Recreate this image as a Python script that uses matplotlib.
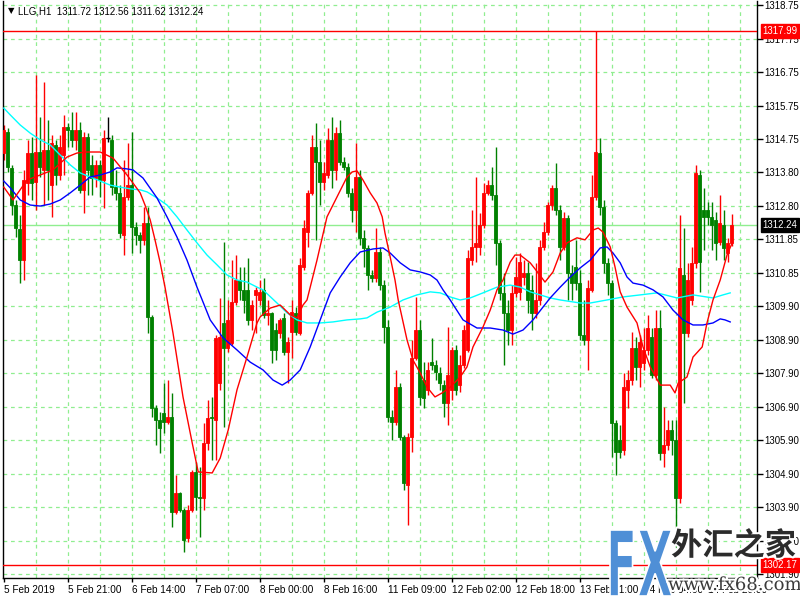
import numpy as np
import matplotlib
matplotlib.use("Agg")
import matplotlib.pyplot as plt
import matplotlib.patheffects as pe
from matplotlib.textpath import TextPath
from matplotlib.patches import PathPatch
from matplotlib.transforms import Affine2D
from matplotlib.font_manager import FontProperties

# ---------------- data (LLG, H1) ----------------
symbol = "LLG,H1"

opens = [
    1314.37, 1314.99, 1313.93, 1312.83, 1312.12, 1311.20, 1313.48, 1314.37, 1313.51, 1314.40,
    1313.87, 1314.46, 1313.42, 1314.61, 1313.72, 1314.31, 1315.14, 1315.05, 1314.76, 1315.05,
    1313.28, 1314.85, 1314.02, 1313.63, 1314.02, 1313.57, 1314.82, 1314.76, 1313.36, 1313.19,
    1311.94, 1313.07, 1313.42, 1312.18, 1311.94, 1311.80, 1312.30, 1309.52, 1306.82, 1306.47,
    1306.68, 1306.41, 1306.56, 1303.74, 1304.31, 1303.80, 1302.97, 1303.80, 1304.93, 1304.19,
    1304.16, 1305.79, 1306.56, 1306.47, 1307.56, 1309.34, 1308.60, 1308.75, 1309.96, 1310.61,
    1310.32, 1310.32, 1309.43, 1310.17, 1310.02, 1310.32, 1309.58, 1309.64, 1309.13, 1309.04,
    1309.49, 1308.48, 1309.07, 1309.64, 1309.04, 1311.00, 1312.03, 1313.19, 1314.55, 1314.10,
    1313.51, 1313.72, 1314.76, 1313.87, 1314.96, 1314.10, 1313.96, 1313.19, 1312.68, 1313.66,
    1311.86, 1311.56, 1310.76, 1310.67, 1311.44, 1310.46, 1309.22, 1306.56, 1306.41, 1307.44,
    1305.96, 1304.54, 1305.96, 1308.30, 1309.13, 1307.65, 1307.36, 1308.18, 1308.10, 1307.86,
    1307.50, 1306.97, 1307.36, 1308.54, 1307.50, 1308.10, 1308.54, 1311.20, 1311.59, 1311.59,
    1312.24, 1313.19, 1313.42, 1313.13, 1311.71, 1310.23, 1309.64, 1309.13, 1310.23, 1310.26,
    1310.70, 1310.82, 1310.32, 1309.64, 1310.02, 1311.59, 1312.03, 1312.83, 1313.34, 1312.68,
    1311.59, 1312.45, 1310.82, 1311.00, 1310.52, 1308.98, 1308.84, 1310.32, 1313.07, 1314.37,
    1312.77, 1311.12, 1310.52, 1306.38, 1305.88, 1305.58, 1307.36, 1307.65, 1308.60, 1308.04,
    1308.16, 1308.54, 1308.92, 1307.80, 1309.19, 1305.49, 1305.73, 1306.17, 1305.88, 1304.16,
    1310.76, 1309.04, 1310.02, 1311.12, 1313.72, 1312.68, 1312.68, 1312.48, 1312.39, 1311.74,
    1312.24, 1311.41, 1311.72,
]
highs = [
    1315.20, 1315.11, 1314.02, 1312.98, 1312.54, 1313.87, 1314.76, 1314.85, 1316.68, 1315.44,
    1316.47, 1315.35, 1314.90, 1314.76, 1314.90, 1315.50, 1315.26, 1315.58, 1315.58, 1315.29,
    1314.99, 1314.96, 1314.31, 1314.16, 1314.16, 1315.05, 1315.44, 1314.90, 1313.87, 1313.42,
    1314.16, 1314.67, 1314.99, 1312.33, 1312.03, 1312.77, 1312.77, 1309.58, 1306.91, 1306.70,
    1307.56, 1307.65, 1307.27, 1304.84, 1304.34, 1303.86, 1303.95, 1304.99, 1305.22, 1305.08,
    1306.38, 1307.06, 1307.15, 1308.98, 1310.08, 1311.74, 1310.02, 1311.20, 1311.35, 1311.00,
    1311.00, 1311.26, 1310.02, 1310.40, 1310.61, 1310.67, 1310.02, 1309.66, 1309.34, 1309.49,
    1309.64, 1308.92, 1310.02, 1309.81, 1311.26, 1312.39, 1313.28, 1314.90, 1315.26, 1314.76,
    1314.10, 1315.11, 1315.44, 1315.14, 1315.35, 1314.25, 1314.08, 1313.34, 1314.67, 1313.87,
    1312.09, 1311.65, 1310.91, 1312.15, 1311.59, 1310.61, 1309.43, 1306.76, 1307.95, 1307.56,
    1306.02, 1306.08, 1308.84, 1310.11, 1309.43, 1308.18, 1308.18, 1308.90, 1308.24, 1308.04,
    1307.65, 1309.22, 1308.63, 1308.69, 1308.39, 1309.28, 1311.50, 1312.68, 1313.66, 1312.60,
    1313.48, 1313.57, 1313.96, 1314.55, 1311.80, 1310.82, 1310.02, 1310.46, 1311.29, 1311.41,
    1311.20, 1311.14, 1310.76, 1311.12, 1311.80, 1312.33, 1312.92, 1313.42, 1314.08, 1312.83,
    1312.62, 1312.54, 1311.06, 1311.80, 1310.91, 1310.02, 1310.61, 1313.72, 1317.99, 1314.82,
    1312.98, 1311.26, 1310.61, 1306.47, 1306.32, 1307.86, 1307.95, 1309.07, 1308.92, 1308.98,
    1309.19, 1309.58, 1309.19, 1309.72, 1309.72, 1306.85, 1306.47, 1306.47, 1306.47, 1312.54,
    1312.15, 1311.12, 1311.59, 1314.02, 1313.87, 1313.34, 1312.91, 1312.91, 1312.62, 1313.13,
    1312.68, 1311.86, 1312.56,
]
lows = [
    1314.16, 1313.81, 1312.54, 1311.88, 1310.52, 1310.61, 1313.13, 1312.98, 1312.68, 1313.66,
    1312.83, 1312.98, 1312.48, 1313.42, 1313.57, 1313.72, 1314.55, 1314.55, 1314.46, 1313.19,
    1312.60, 1313.13, 1313.13, 1313.36, 1313.07, 1312.74, 1314.70, 1313.13, 1312.98, 1311.86,
    1311.35, 1312.98, 1311.41, 1311.65, 1311.41, 1311.65, 1309.04, 1306.56, 1305.73, 1305.49,
    1306.08, 1306.35, 1303.30, 1303.69, 1303.74, 1302.56, 1302.86, 1303.74, 1303.80, 1303.00,
    1303.80, 1305.58, 1305.28, 1305.28, 1307.36, 1306.26, 1308.48, 1308.69, 1309.87, 1310.02,
    1309.64, 1309.28, 1309.13, 1309.04, 1309.87, 1309.49, 1309.28, 1308.16, 1308.24, 1308.90,
    1308.39, 1307.56, 1308.30, 1308.98, 1308.98, 1310.91, 1311.59, 1313.13, 1311.80, 1312.83,
    1313.28, 1313.63, 1313.34, 1313.57, 1314.02, 1313.87, 1313.07, 1312.33, 1312.03, 1311.65,
    1311.00, 1310.32, 1310.55, 1310.55, 1310.32, 1308.75, 1306.41, 1305.88, 1306.32, 1305.88,
    1304.40, 1303.36, 1305.52, 1308.24, 1306.91, 1306.82, 1307.21, 1307.95, 1307.65, 1307.36,
    1306.56, 1306.32, 1307.06, 1307.21, 1307.30, 1308.01, 1308.48, 1311.06, 1311.14, 1311.35,
    1312.15, 1313.13, 1312.98, 1311.06, 1310.02, 1308.10, 1308.69, 1308.69, 1310.11, 1310.02,
    1310.46, 1309.64, 1309.13, 1309.49, 1309.87, 1311.50, 1311.94, 1312.68, 1312.54, 1311.20,
    1311.50, 1310.02, 1310.02, 1310.32, 1308.84, 1308.69, 1307.95, 1310.26, 1312.98, 1312.54,
    1310.82, 1310.17, 1305.37, 1304.84, 1305.34, 1305.43, 1306.82, 1307.50, 1307.65, 1307.44,
    1307.95, 1308.39, 1307.71, 1307.65, 1305.28, 1305.08, 1305.58, 1305.43, 1302.71, 1304.01,
    1306.97, 1308.92, 1309.87, 1310.97, 1310.26, 1311.50, 1312.24, 1311.50, 1311.20, 1311.65,
    1311.20, 1311.14, 1311.62,
]
closes = [
    1315.05, 1313.96, 1312.83, 1312.15, 1311.20, 1313.57, 1314.37, 1313.48, 1314.40, 1313.96,
    1314.46, 1313.87, 1314.67, 1313.72, 1314.55, 1315.14, 1315.05, 1314.76, 1315.05, 1313.28,
    1314.85, 1313.87, 1313.63, 1314.02, 1313.57, 1314.82, 1314.82, 1313.36, 1313.19, 1312.00,
    1313.07, 1313.42, 1312.18, 1311.94, 1311.80, 1312.30, 1309.52, 1306.82, 1306.47, 1306.23,
    1306.41, 1306.56, 1303.74, 1304.31, 1303.80, 1302.92, 1303.80, 1304.93, 1304.19, 1304.16,
    1305.79, 1306.53, 1306.53, 1308.90, 1308.92, 1308.60, 1309.43, 1309.96, 1310.61, 1310.32,
    1310.02, 1309.43, 1309.87, 1310.32, 1310.26, 1309.58, 1309.64, 1308.54, 1308.54, 1309.43,
    1308.48, 1308.78, 1309.66, 1309.07, 1311.06, 1312.15, 1313.19, 1314.55, 1314.10, 1313.51,
    1313.78, 1314.76, 1313.87, 1314.96, 1314.10, 1313.96, 1313.19, 1312.68, 1313.66, 1311.86,
    1311.56, 1310.76, 1310.67, 1311.44, 1310.46, 1309.22, 1306.56, 1306.41, 1307.44, 1305.96,
    1304.60, 1305.96, 1308.30, 1309.13, 1307.15, 1307.12, 1307.95, 1308.10, 1307.89, 1307.56,
    1306.97, 1307.80, 1308.54, 1307.36, 1308.10, 1309.13, 1311.26, 1311.59, 1311.71, 1312.24,
    1313.19, 1313.42, 1313.13, 1311.71, 1310.23, 1309.64, 1309.13, 1310.23, 1310.70, 1311.14,
    1310.82, 1310.02, 1309.64, 1310.02, 1311.59, 1312.03, 1312.83, 1313.34, 1312.68, 1311.59,
    1312.45, 1310.82, 1310.52, 1310.52, 1308.98, 1308.84, 1310.38, 1313.07, 1314.40, 1312.77,
    1311.12, 1310.52, 1306.38, 1305.52, 1305.52, 1307.44, 1307.65, 1308.60, 1308.04, 1308.78,
    1308.54, 1309.19, 1307.80, 1309.19, 1305.49, 1305.73, 1306.17, 1305.88, 1304.16, 1310.97,
    1309.04, 1310.61, 1311.12, 1313.78, 1311.14, 1312.48, 1312.48, 1312.24, 1311.71, 1312.30,
    1311.56, 1311.71, 1312.24,
]

# moving averages (bar position, price)
ma_red_bar = [0, 2.3, 5.8, 9.1, 12.3, 15.8, 18.3, 20.8, 24.1, 27.3, 30.8, 34.1, 35.3, 36.6, 37.8,
              39.1, 40.3, 42.3, 44.8, 47.1, 48.6, 52.1, 54.1, 56.1, 58.3, 60.8, 63.3, 64.1, 66.6,
              69.1, 71.6, 73.3, 74.8, 75.8, 78.3, 80.8, 83.3, 85.8, 87.1, 88.3, 89.8, 91.6, 93.3,
              94.6, 95.3, 96.6, 97.8, 98.6, 100.8, 102.3, 104.1, 105.8, 107.8, 109.6, 111.6, 114.1,
              115.8, 117.3, 119.8, 121.6, 123.3, 124.8, 126.6, 127.8, 129.1, 131.6, 133.6, 135.3,
              137.3, 139.1, 140.8, 143.3, 145.3, 147.3, 148.6, 149.8, 151.6, 152.8, 154.1, 155.8,
              158.3, 159.8, 161.6, 164.1, 166.6, 167.8, 168.6, 170.8, 172.3, 174.6, 175.8, 177.3,
              179.1, 180.8, 182.1]
ma_red_val = [1313.36, 1312.98, 1313.57, 1313.72, 1313.87, 1314.25, 1314.37, 1314.40, 1314.40,
              1314.22, 1313.72, 1313.19, 1312.83, 1312.39, 1311.80, 1311.12, 1310.40, 1309.04,
              1307.15, 1305.79, 1304.93, 1304.90, 1305.34, 1306.17, 1307.36, 1308.33, 1309.34,
              1309.52, 1309.78, 1309.87, 1309.58, 1309.49, 1309.87, 1310.02, 1311.20, 1312.48,
              1313.07, 1313.66, 1313.81, 1313.84, 1313.57, 1313.19, 1312.89, 1312.48, 1312.00,
              1311.29, 1310.61, 1310.02, 1308.84, 1308.24, 1307.86, 1307.44, 1307.15, 1307.27,
              1307.44, 1307.74, 1308.04, 1308.63, 1309.22, 1309.72, 1310.32, 1310.61, 1311.14,
              1311.35, 1311.35, 1311.12, 1310.82, 1310.55, 1310.85, 1311.41, 1311.71, 1311.86,
              1311.80, 1312.09, 1312.15, 1312.03, 1311.59, 1311.00, 1310.26, 1309.81, 1309.34,
              1308.63, 1308.04, 1307.50, 1307.50, 1307.27, 1307.56, 1307.74, 1308.33, 1308.63,
              1309.34, 1310.02, 1310.61, 1311.35, 1311.71]

ma_blue_bar = [0, 1.6, 4.1, 6.6, 9.1, 11.6, 14.1, 16.6, 19.1, 21.6, 24.1, 26.6, 28.3, 30.8, 32.3,
               34.8, 38.3, 40.8, 43.3, 45.8, 48.3, 49.6, 51.6, 54.8, 58.3, 61.6, 64.8, 67.3, 69.6,
               71.6, 74.1, 76.6, 79.1, 81.6, 84.1, 86.6, 89.1, 92.3, 94.8, 96.6, 99.1, 101.6, 104.1,
               106.6, 108.3, 109.8, 111.6, 114.8, 118.3, 121.6, 124.8, 127.3, 129.8, 132.3, 134.8,
               136.6, 139.1, 141.6, 144.1, 146.6, 149.1, 150.8, 152.3, 154.1, 155.8, 157.3, 159.8,
               162.3, 164.8, 167.3, 169.8, 172.3, 174.8, 177.3, 179.1, 180.3, 181.6]
ma_blue_val = [1313.54, 1313.34, 1312.98, 1312.83, 1312.80, 1312.86, 1312.98, 1313.19, 1313.42,
               1313.66, 1313.72, 1313.81, 1313.93, 1313.90, 1313.87, 1313.63, 1313.04, 1312.48,
               1311.88, 1311.20, 1310.40, 1310.02, 1309.43, 1308.90, 1308.54, 1308.18, 1307.95,
               1307.65, 1307.50, 1307.65, 1307.95, 1308.63, 1309.43, 1310.23, 1310.70, 1311.12,
               1311.44, 1311.53, 1311.56, 1311.41, 1311.12, 1310.91, 1310.85, 1310.76, 1310.61,
               1310.32, 1310.02, 1309.43, 1309.19, 1309.19, 1309.13, 1309.01, 1309.13, 1309.43,
               1309.81, 1310.08, 1310.40, 1310.70, 1310.97, 1311.20, 1311.56, 1311.59, 1311.41,
               1311.12, 1310.70, 1310.52, 1310.46, 1310.32, 1310.11, 1309.72, 1309.43, 1309.28,
               1309.28, 1309.34, 1309.46, 1309.43, 1309.37]

ma_cyan_bar = [0, 1.6, 4.1, 6.6, 9.1, 11.6, 14.1, 16.6, 19.1, 21.6, 24.1, 26.6, 29.1, 31.6, 34.1,
               35.8, 38.3, 40.8, 43.3, 45.8, 48.3, 50.8, 53.3, 55.8, 58.3, 60.8, 63.3, 64.8, 68.3,
               70.8, 73.3, 75.8, 79.1, 82.3, 85.8, 89.1, 90.8, 93.3, 96.6, 99.8, 103.3, 106.6, 109.1,
               111.6, 114.1, 116.6, 119.8, 123.3, 126.6, 129.1, 131.6, 134.1, 136.6, 139.1, 144.1,
               146.6, 150.8, 154.8, 159.1, 163.3, 168.3, 172.3, 177.3, 179.8, 181.6]
ma_cyan_val = [1315.70, 1315.50, 1315.20, 1314.96, 1314.76, 1314.61, 1314.31, 1314.02, 1313.78,
               1313.66, 1313.54, 1313.42, 1313.36, 1313.31, 1313.28, 1313.22, 1313.04, 1312.83,
               1312.48, 1312.09, 1311.71, 1311.35, 1311.06, 1310.76, 1310.61, 1310.55, 1310.40,
               1310.32, 1309.93, 1309.64, 1309.43, 1309.34, 1309.34, 1309.37, 1309.43, 1309.46,
               1309.49, 1309.66, 1309.81, 1310.02, 1310.17, 1310.26, 1310.23, 1310.11, 1310.02,
               1310.08, 1310.23, 1310.40, 1310.46, 1310.40, 1310.26, 1310.17, 1310.08, 1310.02,
               1309.93, 1309.93, 1310.02, 1310.11, 1310.17, 1310.23, 1310.08, 1310.17, 1310.08,
               1310.17, 1310.23]

high_line = 1317.99
low_line = 1302.17
bid_price = 1312.24

price_labels = ["1301.90", "1302.90", "1303.90", "1304.90", "1305.90", "1306.90", "1307.90",
                "1308.90", "1309.90", "1310.85", "1311.85", "1312.80", "1313.80", "1314.75",
                "1315.75", "1316.75", "1317.75", "1318.75"]
time_labels = ["5 Feb 2019", "5 Feb 21:00", "6 Feb 14:00", "7 Feb 07:00", "8 Feb 00:00",
               "8 Feb 16:00", "11 Feb 09:00", "12 Feb 02:00", "12 Feb 18:00", "13 Feb 11:00",
               "14 Feb 04:00", "14 Feb 20:00"]
bars_per_label = 16
bars_per_grid = 8

# ---------------- drawing ----------------
o = np.array(opens); h = np.array(highs); l = np.array(lows); c = np.array(closes)
n = len(c)
idx = np.arange(n)

RED = "#FF0000"
GREEN = "#008000"
GRID = "#90EE90"
font = "Liberation Sans"

fig = plt.figure(figsize=(8, 6), dpi=100)
fig.patch.set_facecolor("white")
ax = fig.add_axes([3 / 800, 22 / 600, 754 / 800, 577 / 600])
ax.set_facecolor("white")
ax.set_xlim(-0.2, 188.3)
ax.set_ylim(1301.79, 1318.87)

# grid
yt = np.linspace(float(price_labels[0]), float(price_labels[-1]), len(price_labels))
for v in yt:
    ax.axhline(v, color=GRID, lw=0.9, ls=(0, (3, 3)), zorder=0)
for gx in np.arange(bars_per_grid, 188, bars_per_grid):
    ax.axvline(gx, color=GRID, lw=0.9, ls=(0, (3, 3)), zorder=0)

# candles
cols = np.where(c > o, RED, np.where(c < o, GREEN, "black"))
ax.vlines(idx, l, h, colors=cols, lw=1.0, zorder=2)
body_lo = np.minimum(o, c)
body_h = np.abs(c - o)
ax.bar(idx, body_h, bottom=body_lo, width=0.72, color=cols, edgecolor=cols,
       linewidth=0.6, zorder=3)
doji = body_h == 0
ax.hlines(c[doji], idx[doji] - 0.45, idx[doji] + 0.45, colors="black", lw=1.0, zorder=3)

# moving averages
ax.plot(ma_cyan_bar, ma_cyan_val, color="#00FFFF", lw=1.0, zorder=4)
ax.plot(ma_blue_bar, ma_blue_val, color="#0000FF", lw=1.0, zorder=4)
ax.plot(ma_red_bar, ma_red_val, color=RED, lw=1.0, zorder=4)

# horizontal price lines
ax.axhline(high_line, color=RED, lw=1.0, zorder=5)
ax.axhline(low_line, color=RED, lw=1.0, zorder=5)
ax.axhline(bid_price, color=GRID, lw=1.0, zorder=1)

# axes styling
ax.spines["top"].set_visible(False)
for s in ["left", "bottom", "right"]:
    ax.spines[s].set_color("black")
    ax.spines[s].set_linewidth(1.0)

ax.yaxis.tick_right()
ax.set_yticks(yt)
ax.set_yticklabels(price_labels, fontsize=6.9, family=font)
ax.tick_params(axis="y", direction="out", length=4, width=1, pad=1.5, colors="black")

xt = np.arange(len(time_labels)) * bars_per_label
ax.set_xticks(xt)
ax.set_xticklabels(time_labels, fontsize=7.2, family=font)
for lab in ax.get_xticklabels():
    lab.set_horizontalalignment("left")
ax.tick_params(axis="x", direction="out", length=3, width=1, pad=2, colors="black")

# price boxes on right axis
def price_box(val, fc):
    ax.annotate(f"{val:.2f}", xy=(1, val), xycoords=("axes fraction", "data"),
                xytext=(4, 0), textcoords="offset points", ha="left", va="center",
                color="white", fontsize=6.9, family=font, annotation_clip=False,
                bbox=dict(boxstyle="square,pad=0.2", fc=fc, ec=fc), zorder=10)

price_box(high_line, RED)
price_box(low_line, RED)
price_box(bid_price, "black")

# header
fig.text(8 / 800, 1 - 11 / 600, "\u25BC", fontsize=6, family="DejaVu Sans",
         va="center", ha="left", color="black")
fig.text(18 / 800, 1 - 11 / 600,
         f"{symbol}  {o[-1]:.2f} {h[-1]:.2f} {l[-1]:.2f} {c[-1]:.2f}",
         fontsize=7, family=font, va="center", ha="left", color="black")

# watermark
tp = TextPath((0, 0), "FX", size=1, prop=FontProperties(family="DejaVu Sans", weight="bold"))
bb = tp.get_extents()
tr = Affine2D().translate(-bb.x0, -bb.y0).scale(62 / bb.width, 66 / bb.height).translate(610, 4)
fig.add_artist(PathPatch(tp, transform=tr, fc="#4F8FD6", ec="white", lw=1.2, zorder=20))
halo = [pe.withStroke(linewidth=3, foreground="white")]
fig.text(671 / 800, 1 - 546 / 600, "外汇之家", fontsize=22.5, fontweight="bold",
         family=["Noto Sans CJK SC", "DejaVu Sans"], color="#2b2b2b", va="center",
         ha="left", path_effects=halo, zorder=20)
fig.text(668 / 800, 1 - 585 / 600, "www.fx68.com", fontsize=13, family="DejaVu Serif",
         color="#3a3a3a", va="center", ha="left", path_effects=halo, zorder=20)

fig.savefig("out.png", dpi=100, facecolor="white")
